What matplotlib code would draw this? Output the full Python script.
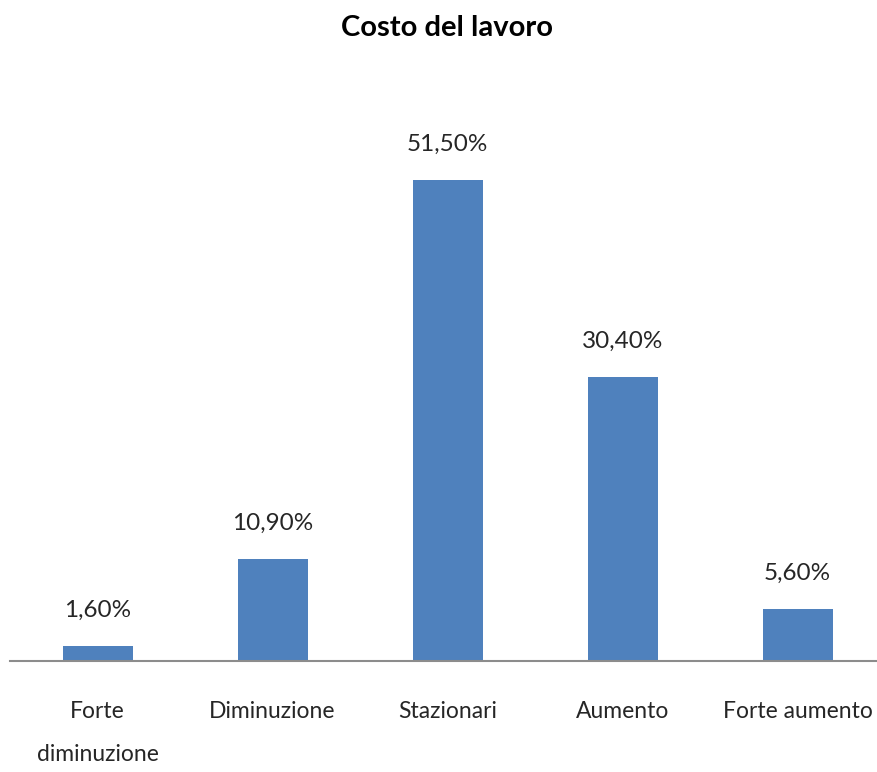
import numpy as np
import matplotlib.pyplot as plt

# Data
categories = ["Forte\ndiminuzione", "Diminuzione", "Stazionari", "Aumento", "Forte aumento"]
values = [1.6, 10.9, 51.5, 30.4, 5.6]
value_labels = ["1,60%", "10,90%", "51,50%", "30,40%", "5,60%"]

plt.rcParams['font.family'] = ['Lato', 'DejaVu Sans']

fig = plt.figure(figsize=(8.77, 7.72), dpi=100)
ax = fig.add_axes([10 / 877, 1 - 661 / 772, 875 / 877, 560 / 772])

x = np.arange(len(categories))
bars = ax.bar(x, values, width=0.4, color='#4F81BD', zorder=2)

# Value labels above each bar
for b, lab in zip(bars, value_labels):
    ax.annotate(lab, (b.get_x() + b.get_width() / 2, b.get_height()),
                xytext=(0, 18), textcoords='offset points',
                ha='center', va='bottom', fontsize=17.5, color='#262626')

ax.set_xlim(-0.5, len(categories) - 0.5)
ax.set_ylim(0, 60)
ax.set_xticks(x)
ax.set_xticklabels(categories, fontsize=16.5, color='#262626', linespacing=2.25)
ax.tick_params(axis='x', length=0, pad=29)
ax.set_yticks([])

for side in ['top', 'right', 'left']:
    ax.spines[side].set_visible(False)
ax.spines['bottom'].set_color('#8c8c8c')
ax.spines['bottom'].set_linewidth(1.5)

fig.text(447 / 877, 1 - 28 / 772, "Costo del lavoro", ha='center', va='center',
         fontsize=21, fontweight='bold', color='#000000')

fig.savefig('out.png', dpi=100, facecolor='white')
